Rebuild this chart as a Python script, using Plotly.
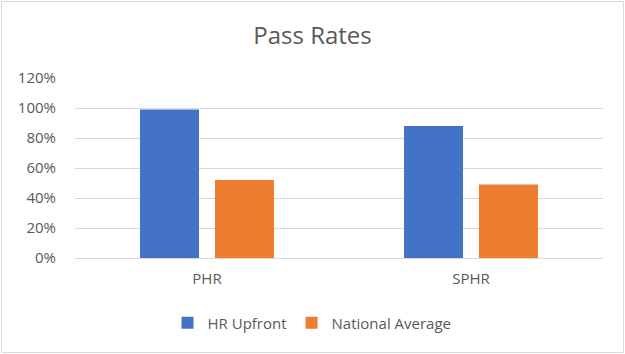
import plotly.graph_objects as go

categories = ["PHR", "SPHR"]
hr_upfront = [0.99, 0.88]
national_average = [0.52, 0.49]
tick_vals = [0, 0.2, 0.4, 0.6, 0.8, 1.0, 1.2]
tick_text = ["0%", "20%", "40%", "60%", "80%", "100%", "120%"]

FONT = "Open Sans"
TXT = "#595959"

fig = go.Figure()
fig.add_trace(go.Bar(name="HR Upfront", x=categories, y=hr_upfront,
                     marker=dict(color="#4472C4", line=dict(width=0))))
fig.add_trace(go.Bar(name="National Average", x=categories, y=national_average,
                     marker=dict(color="#ED7D31", line=dict(width=0))))

W, H = 625, 354
ml, mr, mt, mb = 75, 22, 78, 96
pw, ph = W - ml - mr, H - mt - mb

def px_x(x):
    return (x - ml) / pw

def px_y(y):
    return (H - mb - y) / ph

fig.update_layout(
    width=W, height=H,
    margin=dict(l=ml, r=mr, t=mt, b=mb, pad=0),
    paper_bgcolor="white", plot_bgcolor="white",
    barmode="group", bargap=0.432, bargroupgap=0.213,
    font=dict(family=FONT, color=TXT, size=15),
    title=dict(text="Pass Rates", x=0.5, xanchor="center", y=1 - 36 / H,
               yanchor="middle", font=dict(family=FONT, size=24, color=TXT)),
    xaxis=dict(showgrid=False, showline=True, linecolor="#d9d9d9", linewidth=1,
               ticks="", tickfont=dict(size=15, color=TXT), ticklabelstandoff=7),
    yaxis=dict(range=[0, 1.2], tickvals=tick_vals, ticktext=tick_text,
               showgrid=True, gridcolor="#d9d9d9", gridwidth=1,
               zeroline=False, showline=False, ticks="",
               tickfont=dict(size=15, color=TXT), ticklabelstandoff=18),
    legend=dict(orientation="h", x=px_x(312), xanchor="center", y=px_y(323),
                yanchor="middle", font=dict(size=15, color=TXT),
                itemwidth=30, traceorder="normal"),
    showlegend=True,
    shapes=[dict(type="rect", xref="paper", yref="paper",
                 x0=px_x(1.5), x1=px_x(623.5), y0=px_y(352.5), y1=px_y(1.5),
                 line=dict(color="#d9d9d9", width=1), fillcolor="rgba(0,0,0,0)",
                 layer="below")],
)

fig.write_html("out.html")
